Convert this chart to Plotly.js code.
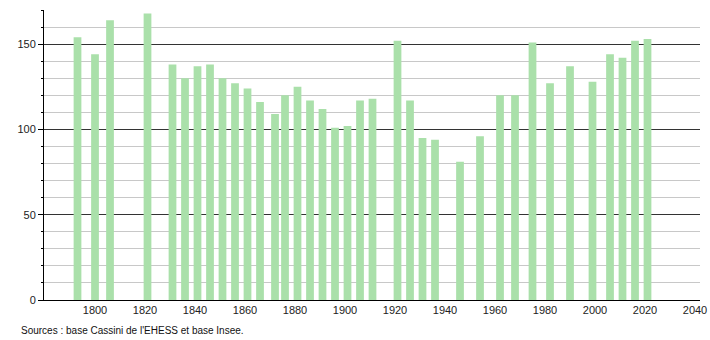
<!DOCTYPE html>
<html>
<head>
<meta charset="utf-8">
<script src="https://cdn.plot.ly/plotly-3.0.1.min.js"></script>
<style>
html,body{margin:0;padding:0;background:#fff;}
#chart{width:710px;height:340px;}
</style>
</head>
<body>
<div id="chart"></div>
<script>
const years = [1793,1800,1806,1821,1831,1836,1841,1846,1851,1856,1861,1866,1872,1876,1881,1886,1891,1896,1901,1906,1911,1921,1926,1931,1936,1946,1954,1962,1968,1975,1982,1990,1999,2006,2011,2016,2021];
const population = [154,144,164,168,138,130,137,138,130,127,124,116,109,120,125,117,112,101,102,117,118,152,117,95,94,81,96,120,120,151,127,137,128,144,142,152,153];
const xTickVals = [1800,1820,1840,1860,1880,1900,1920,1940,1960,1980,2000,2020,2040];
const yTickVals = [0,50,100,150];
const sourceText = "Sources : base Cassini de l'EHESS et base Insee.";

const trace = {
  type: 'bar',
  x: years,
  y: population,
  width: 3.1,
  marker: {color: 'rgb(170,224,170)', line: {width: 0}},
  hoverinfo: 'x+y'
};

const layout = {
  width: 710,
  height: 340,
  margin: {l: 44, r: 10, t: 10, b: 40},
  paper_bgcolor: '#fff',
  plot_bgcolor: '#fff',
  showlegend: false,
  font: {family: 'Liberation Sans, Arial, sans-serif', size: 11, color: '#222'},
  xaxis: {
    range: [1779.6, 2042],
    tickvals: xTickVals,
    ticktext: xTickVals.map(String),
    showgrid: false,
    zeroline: false,
    showline: true,
    linecolor: '#000',
    linewidth: 1,
    ticks: '',
    tickfont: {size: 11, color: '#222'}
  },
  yaxis: {
    range: [0, 170],
    tickvals: yTickVals,
    ticktext: yTickVals.map(String),
    showgrid: true,
    gridcolor: '#333',
    gridwidth: 1,
    zeroline: false,
    showline: true,
    linecolor: '#000',
    linewidth: 1,
    ticks: 'outside',
    ticklen: 5,
    tickcolor: '#000',
    tickfont: {size: 11, color: '#222'},
    minor: {dtick: 10, showgrid: true, gridcolor: '#c8c8c8', gridwidth: 1, ticks: 'outside', ticklen: 2, tickcolor: '#000'}
  },
  annotations: [{
    text: sourceText,
    xref: 'paper', yref: 'paper',
    x: -0.038, y: -0.078,
    xanchor: 'left', yanchor: 'top',
    showarrow: false,
    font: {size: 10, color: '#111'}
  }]
};

Plotly.newPlot('chart', [trace], layout, {displayModeBar: false, staticPlot: true});
</script>
</body>
</html>
